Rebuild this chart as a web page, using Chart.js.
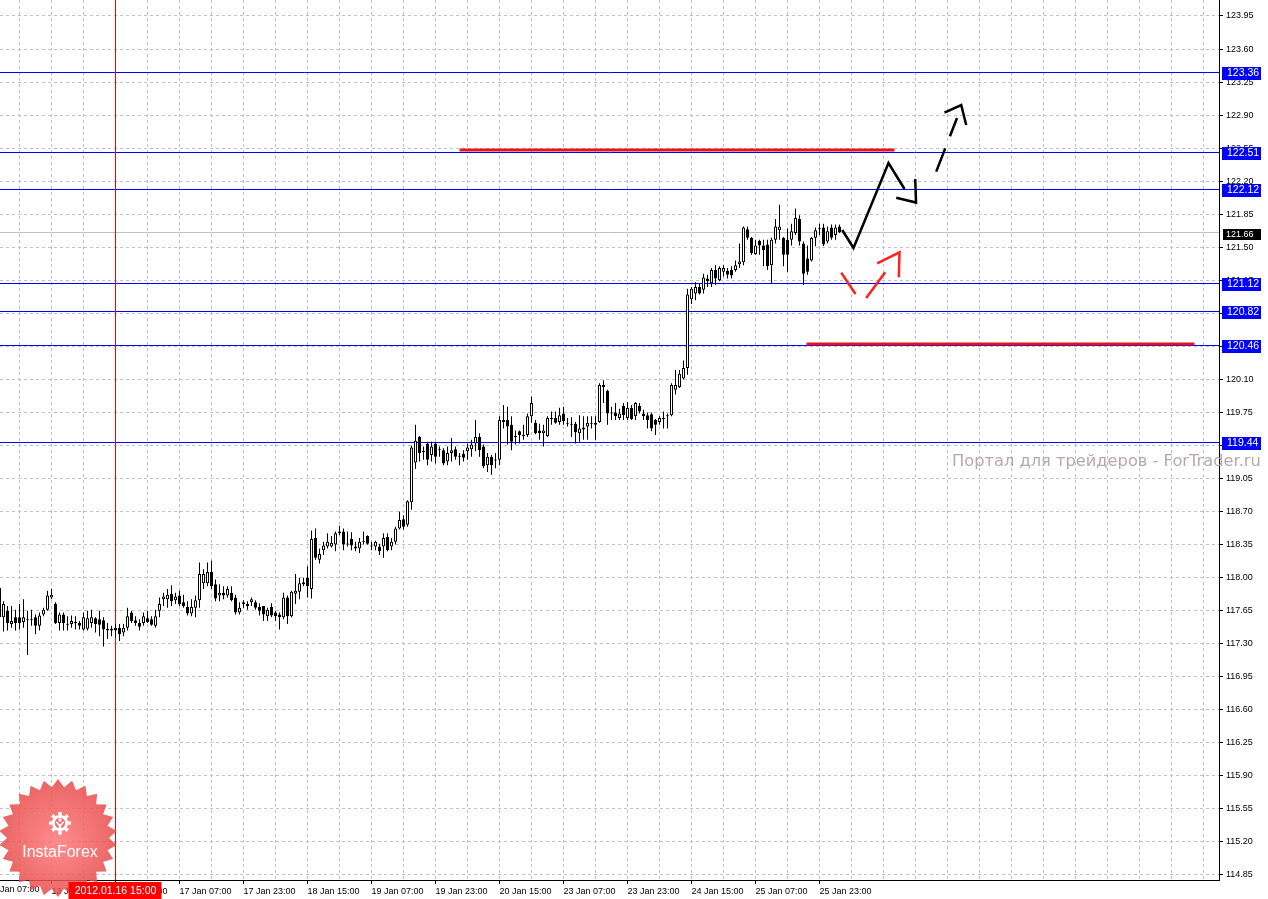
<!DOCTYPE html>
<html>
<head>
<meta charset="utf-8">
<script src="https://cdn.jsdelivr.net/npm/chart.js@4.4.1/dist/chart.umd.min.js"></script>
<style>
html, body { margin: 0; padding: 0; background: #fff; }
canvas { display: block; }
</style>
</head>
<body>
<canvas id="chart" width="1268" height="899"></canvas>
<script>
// H1 bars, index 0 = 13 Jan 07:00; first visible bar is index 3
const firstBar = 3;
const opens = [
  117.89,117.58,117.65,117.51,117.58,117.58,117.53,117.56,117.55,117.58,
  117.49,117.61,117.66,117.79,117.72,117.52,117.61,117.51,117.51,117.53,
  117.52,117.45,117.46,117.52,117.57,117.56,117.55,117.46,117.46,117.47,
  117.47,117.42,117.47,117.63,117.55,117.52,117.52,117.57,117.56,117.49,
  117.65,117.77,117.77,117.83,117.76,117.81,117.74,117.69,117.62,117.68,
  117.76,117.94,117.94,118.06,117.93,117.81,117.84,117.81,117.84,117.79,
  117.63,117.74,117.70,117.74,117.74,117.69,117.70,117.59,117.69,117.63,
  117.61,117.58,117.79,117.59,117.83,117.85,117.93,118.00,117.88,118.42,
  118.19,118.29,118.33,118.33,118.35,118.47,118.49,118.36,118.41,118.33,
  118.31,118.38,118.44,118.34,118.33,118.33,118.33,118.43,118.33,118.38,
  118.52,118.62,118.56,118.80,119.22,119.49,119.33,119.42,119.30,119.42,
  119.36,119.35,119.23,119.32,119.36,119.29,119.31,119.34,119.36,119.42,
  119.49,119.39,119.19,119.28,119.24,119.25,119.65,119.67,119.62,119.50,
  119.55,119.51,119.51,119.71,119.64,119.56,119.53,119.50,119.68,119.69,
  119.65,119.74,119.64,119.63,119.63,119.53,119.59,119.60,119.63,119.64,
  119.65,120.02,119.98,119.75,119.75,119.69,119.82,119.69,119.80,119.71,
  119.82,119.74,119.72,119.73,119.67,119.65,119.68,119.71,119.72,119.99,
  120.02,120.11,120.22,120.95,121.01,121.08,121.05,121.17,121.12,121.26,
  121.15,121.24,121.25,121.26,121.26,121.32,121.34,121.69,121.60,121.43,
  121.57,121.52,121.53,121.31,121.58,121.68,121.60,121.58,121.58,121.65,
  121.80,121.54,121.38,121.36,121.60,121.69,121.71,121.56,121.71,121.63,121.72
];
const highs = [
  117.95,117.75,117.70,117.70,117.66,117.72,117.77,117.65,117.66,117.61,
  117.63,117.68,117.86,117.88,117.74,117.63,117.63,117.59,117.60,117.59,
  117.54,117.63,117.65,117.66,117.58,117.65,117.58,117.52,117.49,117.51,
  117.51,117.51,117.68,117.65,117.59,117.56,117.63,117.65,117.59,117.66,
  117.79,117.84,117.88,117.92,117.84,117.86,117.82,117.75,117.77,117.81,
  118.16,118.09,118.16,118.18,117.98,117.93,117.91,117.91,117.91,117.82,
  117.74,117.76,117.75,117.79,117.76,117.73,117.70,117.68,117.73,117.65,
  117.63,117.84,117.81,117.86,118.04,118.00,118.00,118.12,118.50,118.52,
  118.31,118.38,118.47,118.44,118.49,118.55,118.52,118.49,118.48,118.38,
  118.42,118.49,118.45,118.38,118.39,118.36,118.47,118.47,118.42,118.54,
  118.70,118.66,118.82,119.40,119.62,119.50,119.39,119.44,119.44,119.44,
  119.39,119.37,119.39,119.48,119.39,119.32,119.35,119.42,119.46,119.67,
  119.53,119.41,119.32,119.30,119.32,119.71,119.83,119.81,119.71,119.56,
  119.56,119.62,119.74,119.92,119.67,119.63,119.62,119.71,119.76,119.76,
  119.80,119.81,119.69,119.70,119.65,119.72,119.71,119.71,119.71,119.71,
  120.06,120.09,119.99,119.81,119.85,119.79,119.85,119.86,119.83,119.86,
  119.85,119.78,119.75,119.75,119.68,119.71,119.76,119.74,120.06,120.20,
  120.20,120.30,121.06,121.08,121.13,121.12,121.22,121.21,121.28,121.31,
  121.30,121.31,121.28,121.30,121.36,121.54,121.72,121.72,121.61,121.58,
  121.58,121.58,121.58,121.60,121.80,121.95,121.61,121.70,121.75,121.91,
  121.84,121.56,121.52,121.61,121.71,121.75,121.75,121.72,121.74,121.74,121.74
];
const lows = [
  117.44,117.43,117.44,117.47,117.44,117.45,117.47,117.18,117.49,117.40,
  117.44,117.59,117.65,117.77,117.51,117.44,117.44,117.44,117.47,117.45,
  117.45,117.44,117.44,117.47,117.42,117.38,117.27,117.35,117.38,117.36,
  117.33,117.38,117.44,117.52,117.49,117.44,117.49,117.52,117.49,117.47,
  117.58,117.70,117.68,117.70,117.72,117.70,117.68,117.60,117.59,117.58,
  117.68,117.88,117.91,117.88,117.75,117.75,117.77,117.79,117.75,117.61,
  117.61,117.68,117.66,117.70,117.66,117.60,117.54,117.54,117.58,117.54,
  117.45,117.56,117.51,117.58,117.72,117.77,117.91,117.79,117.78,118.19,
  118.15,118.24,118.31,118.32,118.28,118.45,118.29,118.33,118.29,118.28,
  118.26,118.35,118.35,118.29,118.29,118.24,118.21,118.28,118.29,118.35,
  118.51,118.51,118.54,118.72,119.15,119.23,119.25,119.19,119.23,119.21,
  119.28,119.19,119.19,119.23,119.25,119.19,119.23,119.25,119.28,119.34,
  119.28,119.16,119.12,119.09,119.16,119.19,119.58,119.41,119.35,119.41,
  119.42,119.46,119.49,119.64,119.52,119.46,119.39,119.49,119.62,119.63,
  119.62,119.62,119.60,119.49,119.42,119.44,119.46,119.46,119.58,119.46,
  119.64,119.85,119.62,119.67,119.67,119.67,119.67,119.67,119.67,119.67,
  119.74,119.67,119.58,119.55,119.51,119.62,119.58,119.58,119.71,119.94,
  120.01,120.10,120.15,120.90,120.94,121.00,121.01,121.08,121.08,121.10,
  121.14,121.19,121.17,121.17,121.24,121.28,121.31,121.58,121.42,121.42,
  121.42,121.30,121.26,121.12,121.54,121.58,121.30,121.24,121.52,121.63,
  121.52,121.10,121.21,121.35,121.51,121.63,121.51,121.54,121.58,121.58,121.65
];
const closes = [
  117.58,117.72,117.52,117.54,117.52,117.52,117.58,117.55,117.56,117.49,
  117.60,117.66,117.81,117.82,117.52,117.61,117.52,117.50,117.54,117.52,
  117.49,117.58,117.57,117.58,117.51,117.50,117.45,117.44,117.44,117.44,
  117.40,117.47,117.59,117.54,117.52,117.48,117.59,117.53,117.50,117.59,
  117.72,117.80,117.82,117.75,117.80,117.72,117.70,117.62,117.69,117.76,
  118.04,118.04,118.06,117.91,117.78,117.84,117.81,117.88,117.76,117.63,
  117.68,117.72,117.72,117.77,117.68,117.65,117.61,117.66,117.60,117.59,
  117.58,117.79,117.59,117.85,117.86,117.94,117.95,117.91,118.41,118.21,
  118.25,118.34,118.38,118.37,118.47,118.49,118.35,118.35,118.34,118.31,
  118.38,118.39,118.36,118.33,118.38,118.28,118.42,118.29,118.38,118.52,
  118.61,118.54,118.81,119.38,119.45,119.32,119.34,119.25,119.39,119.28,
  119.35,119.21,119.32,119.35,119.28,119.28,119.27,119.38,119.41,119.49,
  119.35,119.18,119.28,119.19,119.25,119.67,119.67,119.60,119.44,119.49,
  119.51,119.50,119.71,119.85,119.53,119.53,119.56,119.69,119.69,119.64,
  119.72,119.66,119.63,119.62,119.54,119.58,119.57,119.64,119.64,119.62,
  120.04,120.04,119.74,119.74,119.71,119.74,119.72,119.80,119.68,119.85,
  119.76,119.71,119.67,119.58,119.62,119.69,119.69,119.72,120.04,120.04,
  120.16,120.22,121.00,121.06,121.08,121.01,121.18,121.14,121.26,121.17,
  121.28,121.28,121.21,121.20,121.31,121.35,121.71,121.60,121.44,121.52,
  121.52,121.47,121.30,121.58,121.72,121.72,121.42,121.42,121.67,121.81,
  121.56,121.22,121.24,121.60,121.68,121.70,121.53,121.67,121.60,121.71,121.66
];

// time axis
const tickBars = [0, 16, 32, 48, 64, 80, 96, 112, 128, 144, 160, 176, 192, 208];
const tickLabels = ['13 Jan 07:00', '13 Jan 23:00', '16 Jan 15:00', '17 Jan 07:00', '17 Jan 23:00',
  '18 Jan 15:00', '19 Jan 07:00', '19 Jan 23:00', '20 Jan 15:00', '23 Jan 07:00', '23 Jan 23:00',
  '24 Jan 15:00', '25 Jan 07:00', '25 Jan 23:00'];
const gridBars = [8, 16, 24, 32, 40, 48, 56, 64, 72, 80, 88, 96, 104, 112, 120, 128, 136, 144, 152,
  160, 168, 176, 184, 192, 200, 208, 216, 224, 232, 240, 248, 256, 264, 272, 280, 288, 296, 304];
const crossBar = 32;
const crossLabel = '2012.01.16 15:00';

// price axis
const priceTicks = [114.85, 115.20, 115.55, 115.90, 116.25, 116.60, 116.95, 117.30, 117.65, 118.00,
  118.35, 118.70, 119.05, 119.40, 119.75, 120.10, 120.45, 120.80, 121.15, 121.50, 121.85, 122.20,
  122.55, 122.90, 123.25, 123.60, 123.95];
const levelPrices = [123.36, 122.51, 122.12, 121.12, 120.82, 120.46, 119.44];
const bidPrice = 121.66;

// drawn objects: [bar, price]
const resistLine = [[118, 122.53], [226.75, 122.53]];
const supportLine = [[204.75, 120.475], [301.75, 120.475]];
const mainPath = [[213.68, 121.683], [216.5, 121.492], [225.25, 122.393], [229.25, 122.117]];
const mainHead = [[231.93, 122.223], [232.13, 121.974], [227.18, 122.025]];
const altShaft = [[237.18, 122.301], [242.38, 122.870]];
const altHead = [[239.25, 122.926], [243.43, 123.007], [244.68, 122.795]];
const dipDown = [[213.43, 121.231], [217.0, 121.005]];
const dipUp = [[219.68, 120.963], [224.43, 121.235]];
const dipHead = [[222.43, 121.330], [228.0, 121.447], [227.83, 121.182]];

const watermark = 'Портал для трейдеров - ForTrader.ru';

Chart.defaults.font.family = '"Liberation Sans", Arial, sans-serif';

const barX = opens.map((_, i) => firstBar + i);
const wickData = barX.map((x, i) => ({x: x, y: [lows[i], highs[i]]}));
const bodyData = barX.map((x, i) => ({x: x, y: [opens[i], closes[i]]}));
const bodyColors = barX.map((_, i) => closes[i] >= opens[i] ? '#ffffff' : '#000000');

function lineSet(points, color, width, dash, order) {
  return {
    type: 'line',
    data: points.map(p => ({x: p[0], y: p[1]})),
    borderColor: color,
    borderWidth: width,
    borderDash: dash || [],
    borderCapStyle: 'butt',
    pointRadius: 0,
    fill: false,
    tension: 0,
    order: order
  };
}

const overlay = {
  id: 'overlay',
  beforeDatasetsDraw(chart) {
    const {ctx, chartArea: a, scales: {x, y}} = chart;
    ctx.save();
    ctx.beginPath();
    ctx.rect(a.left, a.top, a.right - a.left, a.bottom - a.top);
    ctx.clip();
    ctx.lineWidth = 1;
    let py = Math.round(y.getPixelForValue(bidPrice)) + 0.5;
    ctx.strokeStyle = '#c0c0c0';
    ctx.beginPath(); ctx.moveTo(a.left, py); ctx.lineTo(a.right, py); ctx.stroke();
    ctx.strokeStyle = '#0000ff';
    levelPrices.forEach(p => {
      const ly = Math.round(y.getPixelForValue(p)) + 0.5;
      ctx.beginPath(); ctx.moveTo(a.left, ly); ctx.lineTo(a.right, ly); ctx.stroke();
    });
    const cx = Math.floor(x.getPixelForValue(crossBar)) + 0.5;
    ctx.strokeStyle = '#ff0000';
    ctx.beginPath(); ctx.moveTo(cx, a.top); ctx.lineTo(cx, a.bottom); ctx.stroke();
    ctx.restore();
  },
  afterDraw(chart) {
    const {ctx, chartArea: a, scales: {x, y}} = chart;
    ctx.save();
    // first, partly hidden time label
    ctx.fillStyle = '#000';
    ctx.font = '9px "Liberation Sans"';
    ctx.textBaseline = 'middle';
    ctx.textAlign = 'left';
    ctx.fillText(tickLabels[0], x.getPixelForValue(tickBars[0]), 890);

    drawLogo(ctx);

    // crosshair time label
    const cx = Math.floor(x.getPixelForValue(crossBar)) + 0.5;
    ctx.fillStyle = '#ff0000';
    ctx.fillRect(cx - 47, 882, 93, 17);
    ctx.fillStyle = '#fff';
    ctx.font = '10.5px "Liberation Sans"';
    ctx.textAlign = 'center';
    ctx.fillText(crossLabel, cx, 891);

    // price labels of the levels
    ctx.textAlign = 'left';
    levelPrices.forEach(p => {
      const ly = Math.round(y.getPixelForValue(p));
      ctx.fillStyle = '#0000ff';
      ctx.fillRect(a.right + 3, ly - 5, 39, 13);
      ctx.fillStyle = '#fff';
      ctx.font = '10.5px "Liberation Sans"';
      ctx.fillText(p.toFixed(2), a.right + 8, ly + 1.5);
    });
    const by = Math.round(y.getPixelForValue(bidPrice));
    ctx.fillStyle = '#000';
    ctx.fillRect(a.right + 4, by - 3, 38, 11);
    ctx.fillStyle = '#fff';
    ctx.font = '9px "Liberation Sans"';
    ctx.fillText(bidPrice.toFixed(2), a.right + 7, by + 2.5);

    // watermark
    ctx.font = '15px "DejaVu Sans"';
    const w = ctx.measureText(watermark).width;
    const size = 15 * 309 / w;
    ctx.font = size.toFixed(2) + 'px "DejaVu Sans"';
    ctx.fillStyle = '#b4aaaa';
    ctx.textBaseline = 'alphabetic';
    ctx.fillText(watermark, 952, 466);
    ctx.restore();
  }
};

function drawLogo(ctx) {
  const cx = 58, cy = 838, n = 26, ro = 59, ri = 51;
  ctx.save();
  ctx.beginPath();
  for (let i = 0; i < 2 * n; i++) {
    const r = i % 2 === 0 ? ro : ri;
    const ang = -Math.PI / 2 + i * Math.PI / n;
    const px = cx + r * Math.cos(ang), py = cy + r * Math.sin(ang);
    if (i === 0) ctx.moveTo(px, py); else ctx.lineTo(px, py);
  }
  ctx.closePath();
  const g = ctx.createRadialGradient(cx, cy + 6, 4, cx, cy, ro);
  g.addColorStop(0, 'rgba(255,115,115,0.84)');
  g.addColorStop(1, 'rgba(230,72,72,0.84)');
  ctx.fillStyle = g;
  ctx.fill();
  // gear icon
  const gx = 60, gy = 823;
  ctx.fillStyle = '#fff';
  ctx.beginPath(); ctx.arc(gx, gy, 8, 0, Math.PI * 2); ctx.fill();
  for (let k = 0; k < 8; k++) {
    ctx.save();
    ctx.translate(gx, gy);
    ctx.rotate(k * Math.PI / 4);
    ctx.fillRect(-1.7, -11, 3.4, 4.5);
    ctx.restore();
  }
  ctx.fillStyle = 'rgb(248,104,104)';
  ctx.beginPath(); ctx.arc(gx, gy, 5.2, 0, Math.PI * 2); ctx.fill();
  ctx.fillStyle = '#fff';
  ctx.beginPath(); ctx.arc(gx, gy - 3, 1.7, 0, Math.PI * 2); ctx.fill();
  ctx.beginPath();
  ctx.moveTo(gx - 4.5, gy - 1); ctx.lineTo(gx - 1.2, gy + 3); ctx.lineTo(gx - 1.2, gy + 12);
  ctx.lineTo(gx + 1.2, gy + 12); ctx.lineTo(gx + 1.2, gy + 3); ctx.lineTo(gx + 4.5, gy - 1);
  ctx.lineTo(gx + 3, gy - 1.5); ctx.lineTo(gx, gy + 1.5); ctx.lineTo(gx - 3, gy - 1.5);
  ctx.closePath();
  ctx.fill();
  ctx.font = '16px "Liberation Sans"';
  ctx.textAlign = 'center';
  ctx.textBaseline = 'alphabetic';
  ctx.fillText('InstaForex', 60, 857);
  ctx.restore();
}

new Chart(document.getElementById('chart'), {
  type: 'bar',
  data: {
    datasets: [
      lineSet(mainPath, '#000000', 2.5, null, 1),
      lineSet(mainHead, '#000000', 2.5, null, 1),
      lineSet(altShaft, '#000000', 2.5, [25, 13], 1),
      lineSet(altHead, '#000000', 2.5, null, 1),
      lineSet(dipDown, '#ff2020', 2.5, null, 1),
      lineSet(dipUp, '#ff2020', 2.5, null, 1),
      lineSet(dipHead, '#ff2020', 2.5, null, 1),
      lineSet(resistLine, '#e3141e', 3, null, 2),
      lineSet(supportLine, '#e3141e', 3, null, 2),
      {
        type: 'bar',
        data: bodyData,
        backgroundColor: bodyColors,
        borderColor: '#000000',
        borderWidth: 1,
        borderSkipped: false,
        barThickness: 3,
        maxBarThickness: 3,
        minBarLength: 1,
        inflateAmount: 0,
        grouped: false,
        order: 3
      },
      {
        type: 'bar',
        data: wickData,
        backgroundColor: '#000000',
        borderWidth: 0,
        barThickness: 1,
        maxBarThickness: 1,
        inflateAmount: 0,
        grouped: false,
        order: 4
      }
    ]
  },
  options: {
    responsive: false,
    devicePixelRatio: 1,
    animation: false,
    events: [],
    layout: { padding: 0 },
    plugins: { legend: { display: false }, tooltip: { enabled: false } },
    scales: {
      x: {
        type: 'linear',
        min: 3.125,
        max: 307.875,
        offset: false,
        afterBuildTicks: s => { s.ticks = gridBars.map(v => ({value: v})); },
        afterFit: s => { s.height = 19; s.paddingLeft = 0; s.paddingRight = 0; },
        grid: {
          color: '#c0c0c8',
          offset: false,
          tickLength: 4,
          tickColor: c => (c.tick && tickBars.indexOf(c.tick.value) >= 0) ? '#000000' : 'rgba(0,0,0,0)'
        },
        border: { display: true, color: '#000000', width: 1, dash: [3, 3] },
        ticks: {
          autoSkip: false,
          maxRotation: 0,
          align: 'start',
          padding: 2,
          color: '#000000',
          font: { size: 9 },
          callback: v => { const k = tickBars.indexOf(v); return k >= 0 ? tickLabels[k] : ''; }
        }
      },
      y: {
        position: 'right',
        min: 114.797,
        max: 124.1195,
        beginAtZero: false,
        afterBuildTicks: s => { s.ticks = priceTicks.map(v => ({value: v})); },
        afterFit: s => { s.width = 49; s.paddingTop = 0; s.paddingBottom = 0; },
        grid: { color: '#c0c0c8', tickLength: 4, tickColor: '#000000' },
        border: { display: true, color: '#000000', width: 1, dash: [3, 3] },
        ticks: { padding: 3, color: '#000000', font: { size: 9 }, callback: v => v.toFixed(2) }
      }
    }
  },
  plugins: [overlay]
});
</script>
</body>
</html>
